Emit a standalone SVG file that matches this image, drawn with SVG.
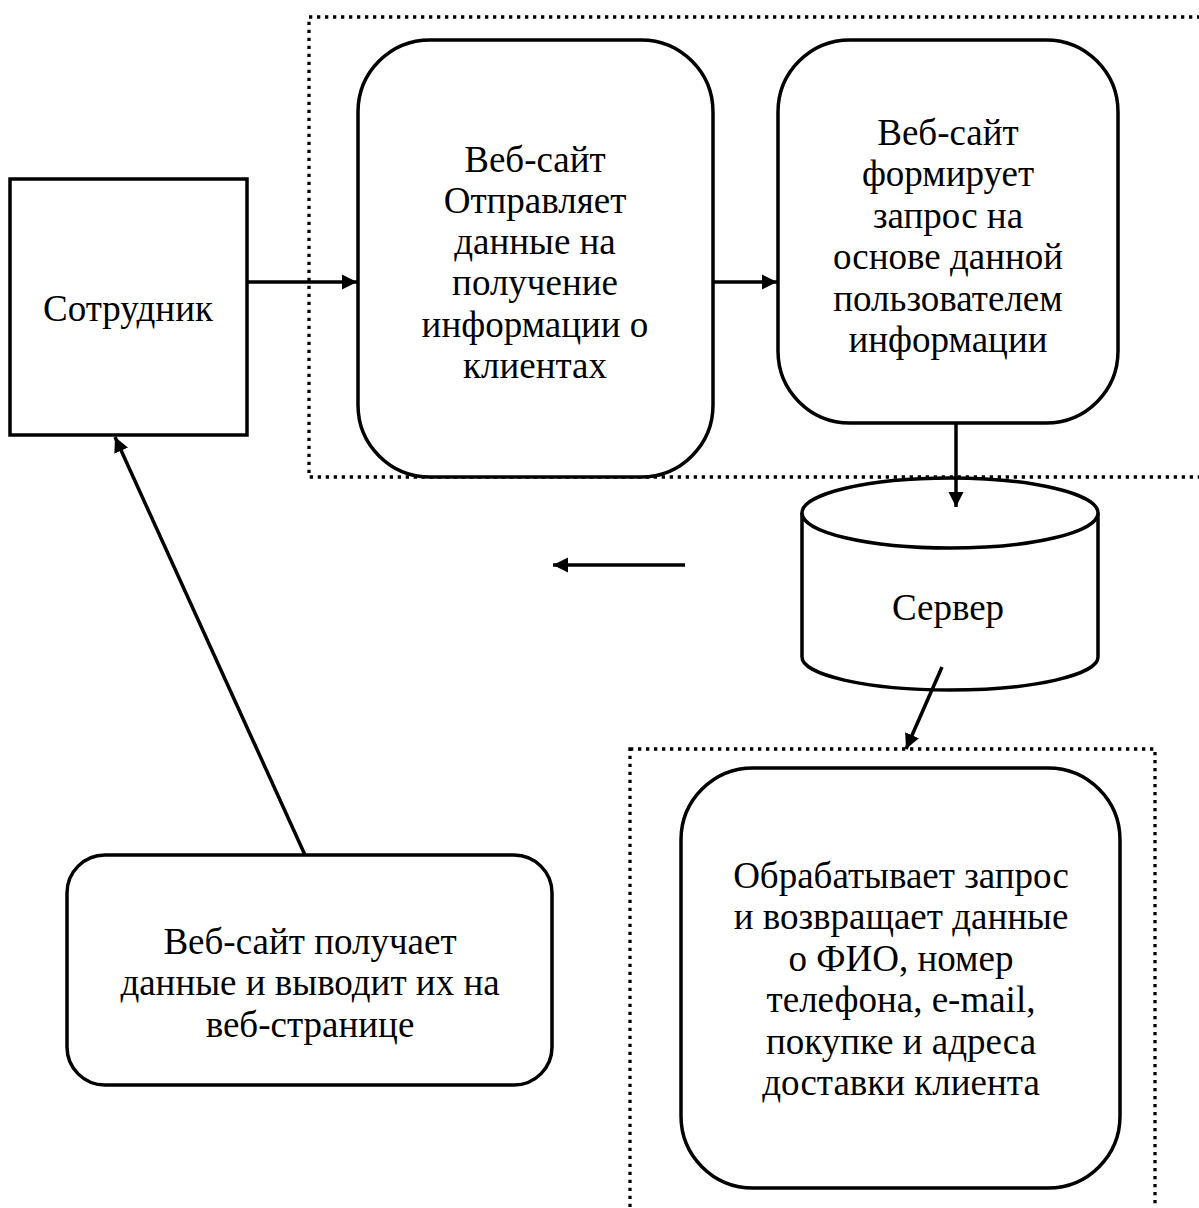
<svg xmlns="http://www.w3.org/2000/svg" width="1199" height="1208" viewBox="0 0 1199 1208">
<defs>
<style>
.box{fill:#fff;stroke:#000;stroke-width:3.5}
.dot{fill:none;stroke:#000;stroke-width:3.3;stroke-dasharray:3.3 4.7}
.ln{fill:none;stroke:#000;stroke-width:3.5}
text{font-family:"Liberation Serif","Times New Roman",serif;font-size:37px;fill:#000;text-anchor:middle}
</style>
<marker id="ah" viewBox="0 0 10 10" refX="10" refY="5" markerWidth="4.3" markerHeight="4.3" orient="auto" markerUnits="strokeWidth">
<path d="M0,0 L10,5 L0,10 z" fill="#000"/>
</marker>
</defs>
<g id="group-top"><rect class="dot" x="309" y="17" width="900" height="460"/></g>
<g id="group-bottom"><rect class="dot" x="630" y="749" width="525" height="480"/></g>
<g id="employee">
<rect class="box" x="10" y="179" width="237" height="256"/>
<text x="128" y="321">Сотрудник</text>
</g>
<g id="send">
<rect class="box" x="358" y="40" width="355" height="437" rx="72" ry="72"/>
<text x="535" y="172">Веб-сайт</text>
<text x="535" y="213">Отправляет</text>
<text x="535" y="254">данные на</text>
<text x="535" y="295">получение</text>
<text x="535" y="337">информации о</text>
<text x="535" y="378">клиентах</text>
</g>
<g id="form">
<rect class="box" x="778" y="40" width="340" height="383" rx="72" ry="72"/>
<text x="948" y="145">Веб-сайт</text>
<text x="948" y="186">формирует</text>
<text x="948" y="228">запрос на</text>
<text x="948" y="269">основе данной</text>
<text x="948" y="311">пользователем</text>
<text x="948" y="352">информации</text>
</g>
<g id="server">
<path class="box" d="M802,513 L802,657 A148,33 0 0 0 1098,657 L1098,513"/>
<ellipse class="box" cx="950" cy="513" rx="148" ry="35"/>
<text x="948" y="620">Сервер</text>
</g>
<g id="process">
<rect class="box" x="681" y="768" width="439" height="420" rx="72" ry="72"/>
<text x="901" y="888">Обрабатывает запрос</text>
<text x="901" y="929">и возвращает данные</text>
<text x="901" y="971">о ФИО, номер</text>
<text x="901" y="1012">телефона, e-mail,</text>
<text x="901" y="1054">покупке и адреса</text>
<text x="901" y="1095">доставки клиента</text>
</g>
<g id="display">
<rect class="box" x="67" y="855" width="485" height="230" rx="38" ry="38"/>
<text x="310" y="954">Веб-сайт получает</text>
<text x="310" y="995">данные и выводит их на</text>
<text x="310" y="1037">веб-странице</text>
</g>
<g id="connectors">
<line class="ln" x1="247" y1="282" x2="357" y2="282" marker-end="url(#ah)"/>
<line class="ln" x1="713" y1="282" x2="777" y2="282" marker-end="url(#ah)"/>
<line class="ln" x1="956" y1="423" x2="956" y2="507" marker-end="url(#ah)"/>
<line class="ln" x1="942" y1="667" x2="906" y2="749" marker-end="url(#ah)"/>
<line class="ln" x1="685" y1="565" x2="553" y2="565" marker-end="url(#ah)"/>
<line class="ln" x1="305" y1="855" x2="115" y2="437" marker-end="url(#ah)"/>
</g>
</svg>
